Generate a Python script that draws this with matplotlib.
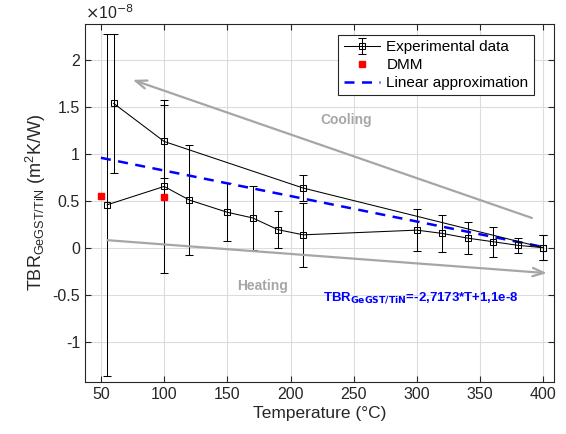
import matplotlib.pyplot as plt
from matplotlib.ticker import FuncFormatter

plt.rcParams['font.family'] = ['Liberation Sans', 'DejaVu Sans']

# values in units of 1e-8 m2K/W
heat_T = [55, 100, 120, 150, 170, 190, 210, 300, 320, 340, 360, 380, 400]
heat_tbr = [0.46, 0.655, 0.51, 0.38, 0.32, 0.195, 0.14, 0.19, 0.155, 0.105, 0.067, 0.028, 0.003]
heat_err = [1.82, 0.925, 0.59, 0.31, 0.34, 0.2, 0.34, 0.225, 0.2, 0.17, 0.16, 0.08, 0.13]

cool_T = [60, 100, 210, 400]
cool_tbr = [1.54, 1.134, 0.638, 0.003]
cool_err = [0.74, 0.39, 0.14, 0.13]

dmm_T = [50, 100]
dmm_tbr = [0.55, 0.54]

lin_T = [50, 400]
lin_tbr = [0.96, 0.01]

fig = plt.figure(figsize=(5.66, 4.34), dpi=100)
ax = fig.add_axes([0.150, 0.120, 0.829, 0.825])

dark = '#262626'
ebkw = dict(color='k', lw=0.75, marker='s', ms=4.5, mfc='none', mec='k', mew=0.75,
            ecolor='k', elinewidth=0.75, capsize=3, capthick=0.75)
h1 = ax.errorbar(cool_T, cool_tbr, yerr=cool_err, **ebkw)
ax.errorbar(heat_T, heat_tbr, yerr=heat_err, **ebkw)
h2, = ax.plot(dmm_T, dmm_tbr, 's', color='red', ms=5, mec='red')
h3, = ax.plot(lin_T, lin_tbr, '--', color='blue', lw=1.8, dashes=(4, 3))

arrow_kw = dict(arrowstyle='->,head_length=0.8,head_width=0.3', color='#a6a6a6', lw=1.6)
ax.annotate('', xy=(73, 1.80), xytext=(393, 0.31), arrowprops=arrow_kw)
ax.annotate('', xy=(405, -0.27), xytext=(53, 0.085), arrowprops=arrow_kw)
ax.text(244, 1.365, 'Cooling', color='#a6a6a6', fontsize=10, fontweight='bold',
        ha='center', va='center')
ax.text(178, -0.40, 'Heating', color='#a6a6a6', fontsize=10, fontweight='bold',
        ha='center', va='center')
ax.text(226, -0.53, r'TBR$_{\mathbf{GeGST/TiN}}$=-2,7173*T+1,1e-8', color='blue',
        fontsize=9.5, fontweight='bold', ha='left', va='center')

ax.set_xlim(37.3, 408.5)
ax.set_ylim(-1.426, 2.386)
ax.set_xticks([50, 100, 150, 200, 250, 300, 350, 400])
ax.set_yticks([-1, -0.5, 0, 0.5, 1, 1.5, 2])
ax.yaxis.set_major_formatter(FuncFormatter(lambda v, p: f'{v:g}'))
ax.grid(True, color='#dcdcdc', lw=0.8)
ax.set_axisbelow(True)
ax.tick_params(direction='in', length=4, colors=dark, labelsize=11.5, top=True, right=True,
               labeltop=False, labelright=False)
for s in ax.spines.values():
    s.set_color(dark)
    s.set_linewidth(0.8)

ax.text(0.0, 1.005, r'$\times$10$^{-8}$', transform=ax.transAxes, fontsize=11.5,
        color=dark, ha='left', va='bottom')
ax.set_xlabel('Temperature (°C)', fontsize=12.5, color=dark, labelpad=3)
ax.set_ylabel(r'TBR$_{\mathregular{GeGST/TiN}}$ (m$^{\mathregular{2}}$K/W)', fontsize=13,
              color=dark, labelpad=3)

leg = ax.legend([h1, h2, h3], ['Experimental data', 'DMM', 'Linear approximation'],
                loc='upper right', bbox_to_anchor=(0.957, 0.969), borderaxespad=0,
                fontsize=11, fancybox=False, framealpha=1, edgecolor=dark,
                borderpad=0.35, labelspacing=0.25, handlelength=2.4, handletextpad=0.4)
leg.get_frame().set_linewidth(0.8)

plt.savefig('out.png', dpi=100)
